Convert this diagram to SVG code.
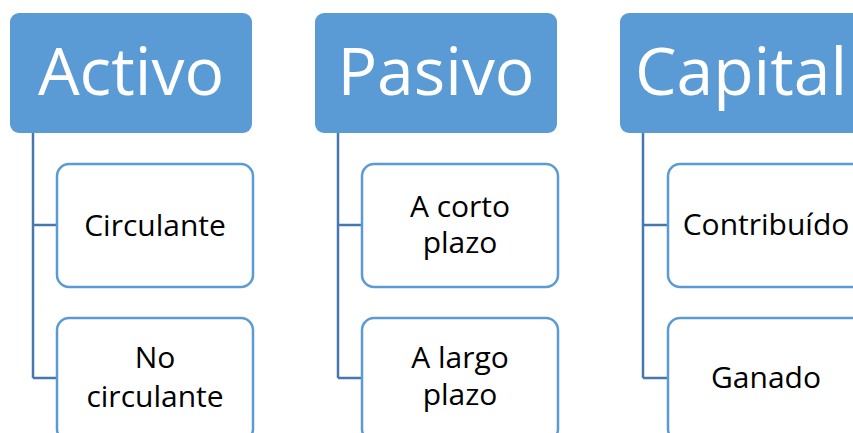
<svg xmlns="http://www.w3.org/2000/svg" width="853" height="433" viewBox="0 0 853 433">
<style>
.hdr{fill:#5B9BD5;}
.hdrt{fill:#FFFFFF;font-family:"Open Sans","Noto Sans",sans-serif;font-size:66px;text-anchor:middle;}
.child{fill:#FFFFFF;stroke:#5B9BD5;stroke-width:2.5;}
.ct{fill:#000000;font-family:"Open Sans","Noto Sans",sans-serif;font-size:30px;text-anchor:middle;}
.conn{fill:none;stroke:#4677AE;stroke-width:2.5;}
</style>
<rect width="853" height="433" fill="#FFFFFF"/>
<g id="connectors">
<path class="conn" d="M33,133 V378 M33,225 H57 M33,378 H57"/>
<path class="conn" d="M338,133 V378 M338,225 H362 M338,378 H362"/>
<path class="conn" d="M643,133 V378 M643,225 H668 M643,378 H668"/>
</g>
<g id="activo">
<rect class="hdr" x="10" y="13" width="242" height="120" rx="9"/>
<text class="hdrt" x="131" y="95">Activo</text>
</g>
<g id="circulante">
<rect class="child" x="57" y="164" width="196" height="123" rx="12"/>
<text class="ct" x="155" y="236">Circulante</text>
</g>
<g id="no-circulante">
<rect class="child" x="57" y="318" width="196" height="123" rx="12"/>
<text class="ct" x="155" y="368">No</text>
<text class="ct" x="155" y="407">circulante</text>
</g>
<g id="pasivo">
<rect class="hdr" x="315" y="13" width="242" height="120" rx="9"/>
<text class="hdrt" x="436" y="95">Pasivo</text>
</g>
<g id="corto-plazo">
<rect class="child" x="362" y="164" width="196" height="123" rx="12"/>
<text class="ct" x="460" y="217">A corto</text>
<text class="ct" x="460" y="253">plazo</text>
</g>
<g id="largo-plazo">
<rect class="child" x="362" y="318" width="196" height="123" rx="12"/>
<text class="ct" x="460" y="368">A largo</text>
<text class="ct" x="460" y="405">plazo</text>
</g>
<g id="capital">
<rect class="hdr" x="620" y="13" width="242" height="120" rx="9"/>
<text class="hdrt" x="741" y="95">Capital</text>
</g>
<g id="contribuido">
<rect class="child" x="668" y="164" width="196" height="123" rx="12"/>
<text class="ct" x="766" y="235">Contribuído</text>
</g>
<g id="ganado">
<rect class="child" x="668" y="318" width="196" height="123" rx="12"/>
<text class="ct" x="766" y="388">Ganado</text>
</g>
</svg>
